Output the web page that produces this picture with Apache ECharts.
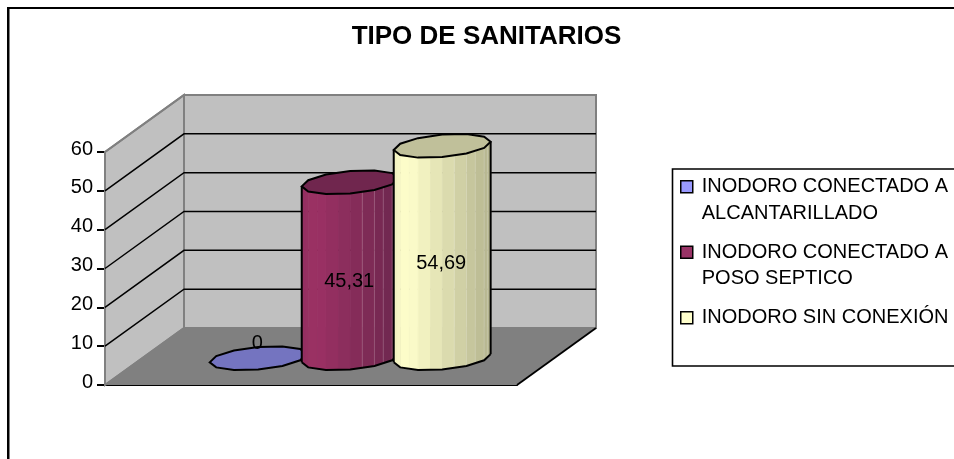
<!DOCTYPE html>
<html><head><meta charset="utf-8">
<style>html,body{margin:0;padding:0;background:#fff}#c{width:954px;height:459px}</style>
<script src="https://cdn.jsdelivr.net/npm/echarts@6/dist/echarts.min.js"></script>
</head><body><div id="c"></div>
<script>
const chartTitle = 'TIPO DE SANITARIOS';
const categories = [''];
const seriesNames = ['INODORO CONECTADO A ALCANTARILLADO', 'INODORO CONECTADO A POSO SEPTICO', 'INODORO SIN CONEXIÓN'];
const legendLines = ['\nINODORO CONECTADO A\nALCANTARILLADO', '\nINODORO CONECTADO A\nPOSO SEPTICO', '\nINODORO SIN CONEXIÓN\n'];
const seriesValues = [0, 45.31, 54.69];
const valueLabels = ['0', '45,31', '54,69'];
const valueTicks = [0, 10, 20, 30, 40, 50, 60];
const faceLeft = ['#a6a6ff', '#9c3164', '#ffffcc'];
const faceRight = ['#7a7acc', '#6c274e', '#b4b48e'];
const topColors = ['#7474c0', '#70264e', '#c0c09a'];
const legendColors = ['#9999ff', '#993366', '#ffffcc'];

const FONT = '"Liberation Sans", Arial, sans-serif';
const DX = 79, DY = -57;            // depth vector of the 3D box
const SPACING = 0.2233;             // bar spacing as a share of the category band
const RADIUS = 0.1105;              // cylinder radius as a share of the band
const SHIFT = 0.005;                // small sideways nudge of the cluster
const DEPTH_C = 0.47, DEPTH_R = 0.21;
const SIDES = 12, SPLIT = 2;

function project(p, d) { return [p[0] + DX * d, p[1] + DY * d]; }

function mix(a, b, f) {
  const pa = parseInt(a.slice(1), 16), pb = parseInt(b.slice(1), 16);
  const out = [16, 8, 0].map(s => Math.round(((pa >> s) & 255) * (1 - f) + ((pb >> s) & 255) * f));
  return 'rgb(' + out.join(',') + ')';
}

function renderBox(params, api) {
  const zero = api.coord([0, 0]);
  const band = api.size([1, 0])[0];
  const left = zero[0] - band / 2, right = zero[0] + band / 2;
  const at = (x, v, d) => project([x, api.coord([0, v])[1]], d);
  const top = valueTicks[valueTicks.length - 1];
  const kids = [];
  kids.push({ type: 'polygon', shape: { points: [at(left, 0, 1), at(right, 0, 1), at(right, top, 1), at(left, top, 1)] }, style: { fill: '#c0c0c0', stroke: '#808080', lineWidth: 2 } });
  kids.push({ type: 'polygon', shape: { points: [at(left, 0, 0), at(left, 0, 1), at(left, top, 1), at(left, top, 0)] }, style: { fill: '#c0c0c0', stroke: '#808080', lineWidth: 2 } });
  kids.push({ type: 'polygon', shape: { points: [at(left, 0, 0), at(right, 0, 0), at(right, 0, 1), at(left, 0, 1)] }, style: { fill: '#808080' } });
  kids.push({ type: 'polyline', shape: { points: [at(right, 0, 0), at(right, 0, 1)] }, style: { fill: null, stroke: '#000', lineWidth: 1.8 } });
  kids.push({ type: 'polyline', shape: { points: [at(left, 0, 0), at(left, 0, 1)] }, style: { fill: null, stroke: '#808080', lineWidth: 1.6 } });
  valueTicks.slice(1, -1).forEach(v => {
    kids.push({ type: 'polyline', shape: { points: [at(left, v, 0), at(left, v, 1), at(right, v, 1)] }, style: { fill: null, stroke: '#000', lineWidth: 1.5 } });
  });
  kids.push({ type: 'polyline', shape: { points: [at(left, top, 0), at(left, top, 1), at(right, top, 1)] }, style: { fill: null, stroke: '#808080', lineWidth: 2 } });
  return { type: 'group', children: kids };
}

function renderCylinder(idx) {
  return function (params, api) {
    const v = api.value(1);
    const base = api.coord([0, 0]);
    const band = api.size([1, 0])[0];
    const cx = base[0] + ((idx - 1) * SPACING + SHIFT) * band;
    const R = RADIUS * band;
    const yBase = base[1], yTop = api.coord([0, v])[1];
    const t0 = Math.atan2(DX * DEPTH_R, R);       // right-most point of the rim
    const ring = (y) => {
      const pts = [];
      for (let i = 0; i < SIDES; i++) {
        const t = t0 - i / SIDES * 2 * Math.PI;   // i=0 right, i=SIDES/2 left, walking through the front
        pts.push(project([cx + R * Math.cos(t), y], DEPTH_C + DEPTH_R * Math.sin(t)));
      }
      return pts;
    };
    const low = ring(yBase), high = ring(yTop);
    const kids = [];
    if (v > 0) {
      const minX = low[SIDES / 2][0], maxX = low[0][0];
      const lines = [];
      for (let i = 0; i < SIDES / 2; i++) {
        for (let s = 0; s < SPLIT; s++) {
          const lerp = (A, k) => [A[i][0] + (A[i + 1][0] - A[i][0]) * k / SPLIT, A[i][1] + (A[i + 1][1] - A[i][1]) * k / SPLIT];
          const a0 = lerp(low, s), a1 = lerp(low, s + 1), b0 = lerp(high, s), b1 = lerp(high, s + 1);
          const f = ((a0[0] + a1[0]) / 2 - minX) / (maxX - minX);
          const g = Math.abs(f - 0.15) / 0.85;
          const c = mix(faceLeft[idx], faceRight[idx], g);
          kids.push({ type: 'polygon', shape: { points: [a0, a1, b1, b0] }, style: { fill: c, stroke: c, lineWidth: 0.6 } });
          if (f > 0.5 && f < 0.98) lines.push([a0, b0]);
        }
      }
      lines.forEach(l => kids.push({ type: 'polyline', shape: { points: l }, style: { fill: null, stroke: 'rgba(255,255,255,0.2)', lineWidth: 1 } }));
      kids.push({ type: 'polyline', shape: { points: [high[0], low[0]] }, style: { fill: null, stroke: '#000', lineWidth: 2 } });
      kids.push({ type: 'polyline', shape: { points: [high[SIDES / 2], low[SIDES / 2]] }, style: { fill: null, stroke: '#000', lineWidth: 2 } });
      kids.push({ type: 'polyline', shape: { points: low.slice(0, SIDES / 2 + 1) }, style: { fill: null, stroke: '#000', lineWidth: 2 } });
    }
    kids.push({ type: 'polygon', shape: { points: high }, style: { fill: topColors[idx], stroke: '#000', lineWidth: 2 } });
    const labelY = api.coord([0, v / 2])[1];
    const lp = project([cx, labelY + (v === 0 ? -15 : 11)], DEPTH_C);
    kids.push({ type: 'text', style: { text: valueLabels[idx], x: lp[0] - 1, y: lp[1], align: 'center', verticalAlign: 'middle', font: '20px ' + FONT, fill: '#000' } });
    return { type: 'group', children: kids };
  };
}

const chart = echarts.init(document.getElementById('c'), null, { renderer: 'canvas' });
chart.setOption({
  animation: false,
  backgroundColor: '#fff',
  title: { text: chartTitle, left: 481.5, top: 19, textAlign: 'center', textStyle: { fontFamily: FONT, fontWeight: 'bold', fontSize: 26, color: '#000' } },
  grid: { left: 105, top: 152, width: 412, height: 233 },
  xAxis: { type: 'category', data: categories, axisLine: { show: true, lineStyle: { color: '#000', width: 2 } }, axisTick: { show: false }, axisLabel: { show: false } },
  yAxis: { type: 'value', min: 0, max: 60, interval: 10, splitLine: { show: false },
    axisLine: { show: true, lineStyle: { color: '#000', width: 2 } },
    axisTick: { show: true, length: 8, inside: false, lineStyle: { color: '#000', width: 2 } },
    axisLabel: { margin: 12, fontFamily: FONT, fontSize: 20, color: '#000', verticalAlign: 'bottom', lineHeight: 6 } },
  legend: {
    orient: 'vertical', left: 675, top: 142, icon: 'rect', itemWidth: 12, itemHeight: 12, itemGap: -14, align: 'left',
    data: seriesNames, selectedMode: false,
    itemStyle: { borderColor: '#000', borderWidth: 1.5 },
    formatter: name => legendLines[seriesNames.indexOf(name)],
    textStyle: { fontFamily: FONT, fontSize: 20, color: '#000', lineHeight: 26.5, padding: [0, 0, 0, 4] }
  },
  graphic: [
    { type: 'rect', shape: { x: 8, y: 8, width: 2000, height: 2000 }, style: { fill: 'none', stroke: '#000', lineWidth: 2 }, silent: true, z: -1 },
    { type: 'line', shape: { x1: 9.5, y1: 9, x2: 9.5, y2: 459 }, style: { stroke: '#808080', lineWidth: 1 }, silent: true, z: -1 },
    { type: 'rect', shape: { x: 672.5, y: 169, width: 600, height: 197 }, style: { fill: '#fff', stroke: '#000', lineWidth: 1.6 }, silent: true, z: -1 }
  ],
  series: [
    { type: 'custom', name: '__box', silent: true, renderItem: renderBox, data: [[0, 0]], encode: { x: 0, y: 1 }, z: 1 }
  ].concat(seriesNames.map((n, i) => ({
    type: 'custom', name: n, silent: true, renderItem: renderCylinder(i), data: [[0, seriesValues[i]]],
    encode: { x: 0, y: 1 }, itemStyle: { color: legendColors[i] }, z: 2 + i, clip: false
  })))
});
</script></body></html>
